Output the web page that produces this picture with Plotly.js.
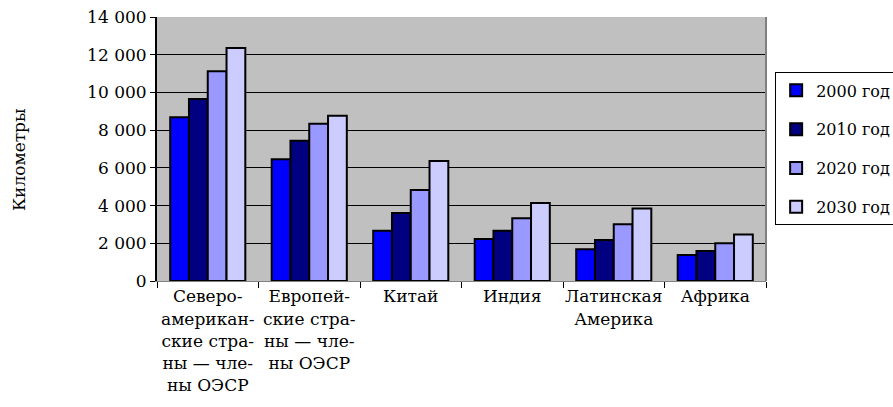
<!DOCTYPE html>
<html>
<head>
<meta charset="utf-8">
<script src="https://cdn.plot.ly/plotly-3.0.1.min.js"></script>
<style>html,body{margin:0;padding:0;background:#fff;}#chart{width:893px;height:407px;}</style>
</head>
<body>
<div id="chart"></div>
<script>
const categories = ["Североамериканские страны — члены ОЭСР", "Европейские страны — члены ОЭСР", "Китай", "Индия", "Латинская Америка", "Африка"];
const tickLabels = ["Северо-<br>американ-<br>ские стра-<br>ны — чле-<br>ны ОЭСР", "Европей-<br>ские стра-<br>ны — чле-<br>ны ОЭСР", "Китай", "Индия", "Латинская<br>Америка", "Африка"];
const seriesNames = ["2000 год", "2010 год", "2020 год", "2030 год"];
const y2000 = [8690, 6460, 2660, 2230, 1680, 1380];
const y2010 = [9650, 7440, 3600, 2660, 2180, 1590];
const y2020 = [11120, 8340, 4830, 3330, 3010, 2000];
const y2030 = [12360, 8760, 6370, 4130, 3840, 2460];
const colors = ["#0000FF", "#000080", "#9999FF", "#CCCCFF"];

const FONT = "DejaVu Serif, Liberation Serif, serif";
const allY = [y2000, y2010, y2020, y2030];
const traces = allY.map((ys, i) => ({
  type: "bar",
  name: seriesNames[i],
  x: categories,
  y: ys,
  legendgroup: "g" + i,
  marker: {color: colors[i], line: {color: "#000000", width: 2}},
  hoverinfo: "x+y"
}));

const layout = {
  width: 893, height: 407,
  margin: {l: 157, r: 127, t: 17, b: 126, autoexpand: false},
  paper_bgcolor: "#ffffff",
  plot_bgcolor: "#C0C0C0",
  separators: ", ",
  font: {family: FONT, size: 17, color: "#000000"},
  bargap: 0.26,
  bargroupgap: 0,
  showlegend: true,
  legend: {
    x: 1.015, xanchor: "left", y: 0.79, yanchor: "top",
    bgcolor: "#ffffff", bordercolor: "#000000", borderwidth: 1,
    font: {family: FONT, size: 16, color: "#000000"},
    traceorder: "grouped", tracegroupgap: 15
  },
  xaxis: {
    type: "category",
    tickvals: categories, ticktext: tickLabels, tickangle: 0,
    automargin: false,
    showline: true, linecolor: "#808080", linewidth: 1,
    ticks: "outside", tickson: "boundaries", ticklen: 6, tickcolor: "#000000",
    tickfont: {family: FONT, size: 17, color: "#000000"},
    showgrid: false, zeroline: false, fixedrange: true
  },
  yaxis: {
    range: [0, 14000], dtick: 2000, tickformat: ",d",
    automargin: false,
    showline: true, linecolor: "#000000", linewidth: 2,
    ticks: "outside", ticklen: 5, tickcolor: "#000000",
    showgrid: true, gridcolor: "#000000", gridwidth: 1,
    zeroline: false,
    tickfont: {family: FONT, size: 17, color: "#000000"},
    fixedrange: true
  },
  shapes: [
    {type: "line", xref: "paper", yref: "paper", x0: 1, x1: 1, y0: 0, y1: 1, line: {color: "#808080", width: 2}}
  ],
  annotations: [
    {text: "Километры", xref: "paper", yref: "paper", x: -0.2266, y: 0.458, textangle: -90,
     showarrow: false, xanchor: "center", yanchor: "middle", font: {family: FONT, size: 17, color: "#000000"}}
  ]
};

Plotly.newPlot("chart", traces, layout, {displayModeBar: false, staticPlot: true});
</script>
</body>
</html>
